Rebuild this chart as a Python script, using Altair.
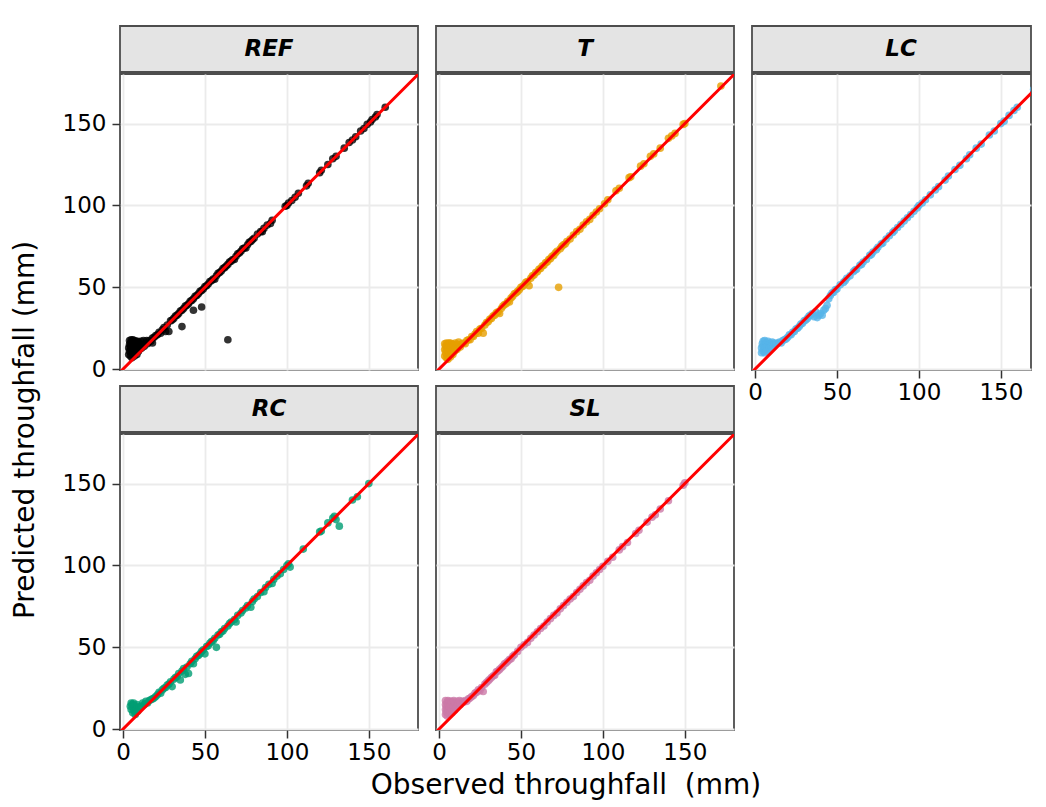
import altair as alt
import pandas as pd

FONT = "DejaVu Sans"
TICKS = [0, 50, 100, 150]
X_DOMAIN = [-1.8, 180]
Y_DOMAIN = [-0.5, 180.3]
X_DOMAIN_LC = [-1.8, 168.4]   # right-hand panel is cut at the page edge
ABLINE = [-10, 200]

COLORS = {"REF": "#000000", "T": "#E69F00", "LC": "#56B4E9", "RC": "#009E73", "SL": "#CC79A7"}

# (observed, predicted) pairs
REF_pts = [
    (3.5, 9), (3.5, 13), (4, 11), (4, 15), (4, 17.5), (4.5, 8), (4.5, 13), (4.5, 16), (5, 10), (5, 14),
    (5, 18), (5.5, 7), (5.5, 12), (5.5, 16.5), (6, 9), (6, 14), (6, 18), (6.5, 11), (6.5, 16), (7, 8),
    (7, 13), (7, 17.5), (7.5, 10), (7.5, 15), (8, 12), (8, 17), (8.5, 9), (9, 14), (9, 17), (9.5, 11),
    (10, 16), (10.5, 12.5), (11, 17), (11.5, 13), (12, 15), (12.5, 17.5), (13, 14), (14, 16), (14.5, 17.5),
    (15, 15.5), (16, 17.5), (17, 17), (18, 16), (18, 19), (19, 19.5), (20, 20.5), (21, 21), (22, 22.5),
    (23, 22), (24, 24), (25, 25.5), (26, 23), (27, 27), (28, 23), (29, 29.5), (30, 30), (31, 31),
    (32, 32.5), (33, 33), (34, 34), (35, 35.5), (36, 26), (36, 36), (37, 37), (38, 38.5), (39, 39),
    (40, 40), (41, 41.5), (42, 42), (43, 36), (43, 43), (44, 44.5), (45, 45), (46, 46), (47, 47.5),
    (48, 38), (48, 48), (49, 49), (50, 50.5), (51, 51), (52, 52), (53, 53.5), (54, 54), (55, 55),
    (56, 55), (57, 57), (58, 58.5), (59, 59), (60, 60), (61, 61.5), (62, 62), (63, 63), (64, 18),
    (64, 64), (65, 65.5), (66, 66), (67, 67), (68, 67), (69, 69), (70, 70.5), (71, 71), (72, 72),
    (73, 73.5), (74, 74), (75, 74), (76, 76), (77, 77.5), (78, 78), (79, 79), (80, 80), (82, 82.5),
    (84, 84), (85, 84), (86, 86), (88, 88), (90, 89), (91, 91), (99, 99.5), (100, 100), (101, 101.5),
    (103, 103), (105, 105), (107, 107.5), (112, 112), (113, 113.5), (120, 120), (121, 121.5), (125, 125),
    (128, 128.5), (130, 130), (135, 135), (138, 138.5), (140, 140), (142, 142), (145, 145.5), (147, 147),
    (149, 149.5), (151, 151), (152, 152.5), (154, 154), (155, 155.5), (160, 160),
]

T_pts = [
    (3.5, 8), (3.5, 12), (3.5, 15.5), (4, 10), (4, 14), (4.5, 7), (4.5, 12), (4.5, 16), (5, 9), (5, 13.5),
    (5.5, 6), (5.5, 11), (5.5, 15.5), (6, 8), (6, 13), (6, 16), (6.5, 10), (6.5, 14.5), (7, 7.5), (7, 12),
    (7, 16), (7.5, 9.5), (7.5, 14), (8, 11), (8, 15.5), (8.5, 9), (8.5, 13), (9, 15), (9.5, 11), (10, 13),
    (10, 16), (11, 12), (11.5, 15), (12, 16.5), (13, 13.5), (14, 15.5), (15, 16), (16, 15.5), (17, 17.5),
    (18, 18), (19, 18), (20, 20), (21, 20), (22, 21.5), (23, 23), (24, 22), (25, 24.5), (26, 25), (27, 22),
    (28, 27), (29, 28.5), (30, 29), (31, 30.5), (32, 31), (33, 32.5), (34, 33), (35, 34.5), (36, 35),
    (37, 34), (38, 37), (39, 38.5), (40, 39.5), (41, 40), (42, 41.5), (43, 41), (44, 43.5), (45, 44.5),
    (46, 46), (47, 46.5), (48, 47.5), (49, 48.5), (50, 50), (51, 50.5), (52, 51.5), (53, 53), (54, 53.5),
    (55, 51), (56, 55.5), (57, 57), (58, 57.5), (59, 59), (60, 59.5), (61, 61), (62, 61.5), (63, 63),
    (64, 63.5), (65, 65), (66, 65.5), (67, 67), (68, 67.5), (69, 69), (70, 69.5), (71, 71), (72, 72),
    (73, 50), (74, 73.5), (75, 75), (76, 76), (77, 76.5), (78, 78), (80, 79.5), (82, 82), (84, 84),
    (86, 85.5), (88, 88), (90, 90), (92, 91.5), (94, 94), (96, 96), (98, 98), (101, 101), (103, 103.5),
    (108, 109), (110, 110.5), (116, 117), (117, 117.5), (123, 124), (125, 125.5), (129, 130), (131, 131.5),
    (135, 135), (140, 141), (142, 142.5), (144, 144), (149, 149.5), (150, 150), (172, 173),
]

LC_pts = [
    (4, 10), (4, 13), (4.5, 15.5), (5, 11), (5, 14), (5, 17), (5.5, 12.5), (6, 10), (6, 15), (6, 17.5),
    (6.5, 13), (7, 11), (7, 16), (7.5, 14), (8, 12), (8, 17), (8.5, 15), (9, 13), (9.5, 16), (10, 14),
    (10.5, 16.5), (11, 15), (12, 16), (13, 15.5), (14, 16), (15, 16.5), (16, 16), (17, 17.5), (18, 18),
    (19, 18.5), (20, 19.5), (21, 21), (22, 21), (23, 22.5), (24, 23), (25, 24.5), (26, 25), (27, 26),
    (28, 27.5), (29, 28), (30, 29.5), (31, 30), (32, 31), (33, 32.5), (34, 33), (35, 34), (36, 32),
    (37, 35), (38, 31.5), (39, 33), (40, 34), (41, 33), (42, 36), (43, 37), (44, 39), (45, 43), (46, 45),
    (47, 46.5), (48, 47), (49, 48.5), (50, 49), (52, 51.5), (54, 53), (55, 54), (56, 55.5), (58, 57),
    (60, 59.5), (61, 60.5), (62, 61), (64, 63.5), (65, 64), (66, 65.5), (68, 67), (70, 69.5), (71, 70),
    (72, 71.5), (74, 73), (75, 74.5), (77, 76.5), (78, 77), (80, 79.5), (82, 81.5), (84, 83.5), (85, 84.5),
    (87, 86.5), (89, 88.5), (91, 90.5), (93, 92.5), (95, 94.5), (97, 96.5), (99, 98.5), (100, 100),
    (102, 101.5), (104, 103.5), (107, 106.5), (110, 109.5), (112, 111.5), (116, 115.5), (118, 118),
    (122, 122), (125, 124.5), (129, 128.5), (131, 131), (135, 135), (138, 137.5), (143, 143), (146, 145.5),
    (150, 150), (152, 151.5), (155, 155), (158, 158), (160, 160), (170, 171), (172, 173), (175, 175.5),
]

RC_pts = [
    (4.5, 14), (5, 16), (5, 12), (5.5, 15), (6, 13.5), (6, 10), (6.5, 16), (7, 11), (7, 14.5), (7.5, 9),
    (8, 12.5), (8.5, 15), (9, 11), (10, 13.5), (11, 14), (12, 16), (13, 15), (14, 17), (15, 16), (16, 17.5),
    (17, 18), (18, 18.5), (19, 19), (20, 20), (21, 21), (22, 22.5), (23, 22), (24, 24), (25, 25), (26, 25.5),
    (27, 27), (28, 27.5), (29, 29), (30, 26), (31, 30.5), (32, 31.5), (33, 32), (34, 34), (35, 30),
    (36, 35.5), (37, 37), (38, 33.5), (39, 38), (40, 34), (41, 40), (42, 41.5), (43, 40), (44, 43),
    (45, 44.5), (46, 45), (47, 46), (48, 47.5), (49, 48.5), (50, 46), (51, 50.5), (52, 51), (53, 52.5),
    (54, 53.5), (55, 54), (56, 55.5), (57, 50), (58, 57.5), (59, 58), (60, 59.5), (61, 60), (62, 61.5),
    (64, 63), (65, 64.5), (66, 65.5), (68, 67), (69, 65.5), (70, 69.5), (72, 71), (73, 72.5), (75, 74),
    (76, 75.5), (78, 74.5), (79, 78), (80, 79.5), (82, 81), (84, 83.5), (86, 84), (87, 86.5), (89, 88.5),
    (91, 89), (92, 91.5), (94, 93.5), (96, 95), (98, 97.5), (100, 100), (101, 101), (102, 99), (110, 110),
    (120, 120.5), (121, 121), (125, 126), (128, 129), (129, 130), (130, 128), (132, 124), (140, 140),
    (143, 142), (150, 150),
]

SL_pts = [
    (4, 9), (4, 12), (4, 15), (4, 17.5), (4.5, 10.5), (4.5, 14), (5, 8), (5, 12.5), (5, 16.5), (5.5, 10),
    (5.5, 14), (5.5, 17.5), (6, 11.5), (6, 15.5), (6.5, 9), (6.5, 13), (6.5, 17), (7, 11), (7, 15), (7.5, 13),
    (7.5, 17), (8, 10), (8, 14.5), (8.5, 12), (8.5, 16.5), (9, 14), (9, 17.5), (9.5, 11.5), (10, 15.5),
    (10.5, 13), (11, 17), (11.5, 14.5), (12, 16), (12.5, 17.5), (13, 15), (14, 17), (15, 16.5), (16, 17.5),
    (17, 17), (18, 18.5), (19, 19), (20, 20), (21, 20.5), (22, 22), (23, 22.5), (24, 24), (25, 23.5),
    (26, 25.5), (27, 23), (28, 27.5), (29, 28.5), (30, 29.5), (31, 30.5), (32, 31.5), (33, 32.5), (34, 33),
    (35, 35), (36, 35.5), (37, 36.5), (38, 37.5), (39, 38.5), (40, 40), (41, 40.5), (42, 41.5), (43, 42.5),
    (44, 43), (45, 44.5), (46, 45.5), (48, 47.5), (50, 50), (52, 51.5), (54, 53), (56, 55.5), (58, 57.5),
    (60, 59.5), (62, 61.5), (64, 63), (66, 65.5), (68, 67.5), (70, 69.5), (72, 71), (74, 73.5), (76, 75.5),
    (78, 77.5), (80, 79.5), (82, 81), (84, 83.5), (86, 85.5), (88, 87.5), (90, 89.5), (92, 91), (94, 93.5),
    (96, 95.5), (98, 97.5), (100, 99.5), (103, 102.5), (106, 105), (110, 109.5), (112, 111.5), (115, 114),
    (120, 119.5), (122, 121.5), (127, 126.5), (130, 129.5), (132, 131), (135, 134.5), (140, 139.5),
    (149, 149), (150, 150.5),
]

POINTS = {"REF": REF_pts, "T": T_pts, "LC": LC_pts, "RC": RC_pts, "SL": SL_pts}

W, W_LC, H, SH = 298, 279, 296, 46
BORDER = "#4D4D4D"


def strip(label, width):
    return (
        alt.Chart(pd.DataFrame({"label": [label]}))
        .mark_text(font=FONT, fontSize=23, fontWeight="bold", fontStyle="italic", color="black")
        .encode(x=alt.value(W / 2), y=alt.value(SH / 2), text="label:N")
        .properties(width=width, height=SH,
                    view=alt.ViewBackground(fill="#E4E4E4", stroke=BORDER, strokeWidth=1.8))
    )


def panel(name, show_x, show_y, width, xdom):
    df = pd.DataFrame(POINTS[name], columns=["obs", "pred"])
    line_df = pd.DataFrame({"obs": ABLINE, "pred": ABLINE})
    xaxis = alt.Axis(values=TICKS, title=None, grid=True, labels=show_x, ticks=show_x, domain=False)
    yaxis = alt.Axis(values=TICKS, title=None, grid=True, labels=show_y, ticks=show_y, domain=False)
    xenc = alt.X("obs:Q", scale=alt.Scale(domain=xdom, nice=False, zero=False), axis=xaxis)
    yenc = alt.Y("pred:Q", scale=alt.Scale(domain=Y_DOMAIN, nice=False, zero=False), axis=yaxis)
    pts = alt.Chart(df).mark_circle(size=58, opacity=0.8, color=COLORS[name], clip=True).encode(x=xenc, y=yenc)
    line = alt.Chart(line_df).mark_line(color="#FF0000", strokeWidth=3, clip=True).encode(x=xenc, y=yenc)
    return alt.layer(pts, line).properties(
        width=width, height=H, view=alt.ViewBackground(fill="white", stroke=BORDER, strokeWidth=1.8)
    )


def cell(name, show_x, show_y, width=W, xdom=X_DOMAIN):
    return alt.vconcat(strip(name, width), panel(name, show_x, show_y, width, xdom), spacing=0)


col1 = alt.vconcat(cell("REF", False, True), cell("RC", True, True), spacing=2)
col2 = alt.vconcat(cell("T", False, False), cell("SL", True, False), spacing=14)
col3 = cell("LC", True, False, W_LC, X_DOMAIN_LC)
grid = alt.hconcat(col1, col2, col3, spacing=11)

ytitle = (
    alt.Chart(pd.DataFrame({"t": ["Predicted throughfall (mm)"]}))
    .mark_text(angle=270, font=FONT, fontSize=28, color="black")
    .encode(x=alt.value(18), y=alt.value(404), text="t:N")
    .properties(width=30, height=600, view=alt.ViewBackground(strokeWidth=0))
)

chart = (
    alt.hconcat(ytitle, grid, spacing=20)
    .properties(
        title=alt.TitleParams(
            "Observed throughfall\u00a0 (mm)", orient="bottom", anchor="middle", dx=46, offset=7,
            fontSize=28, font=FONT, fontWeight="normal", color="black",
        ),
        padding={"left": 0, "top": 17, "right": 0, "bottom": 0},
    )
    .configure_view(strokeWidth=0)
    .configure_axis(
        labelFont=FONT, labelFontSize=23, labelColor="black", tickColor="#333333", tickSize=8,
        tickWidth=1.5, gridColor="#EBEBEB", gridWidth=1.8,
    )
    .configure_axisX(labelPadding=3)
    .configure_axisY(labelPadding=6)
)

chart.save("out.html", embed_options={"renderer": "svg", "actions": False})
